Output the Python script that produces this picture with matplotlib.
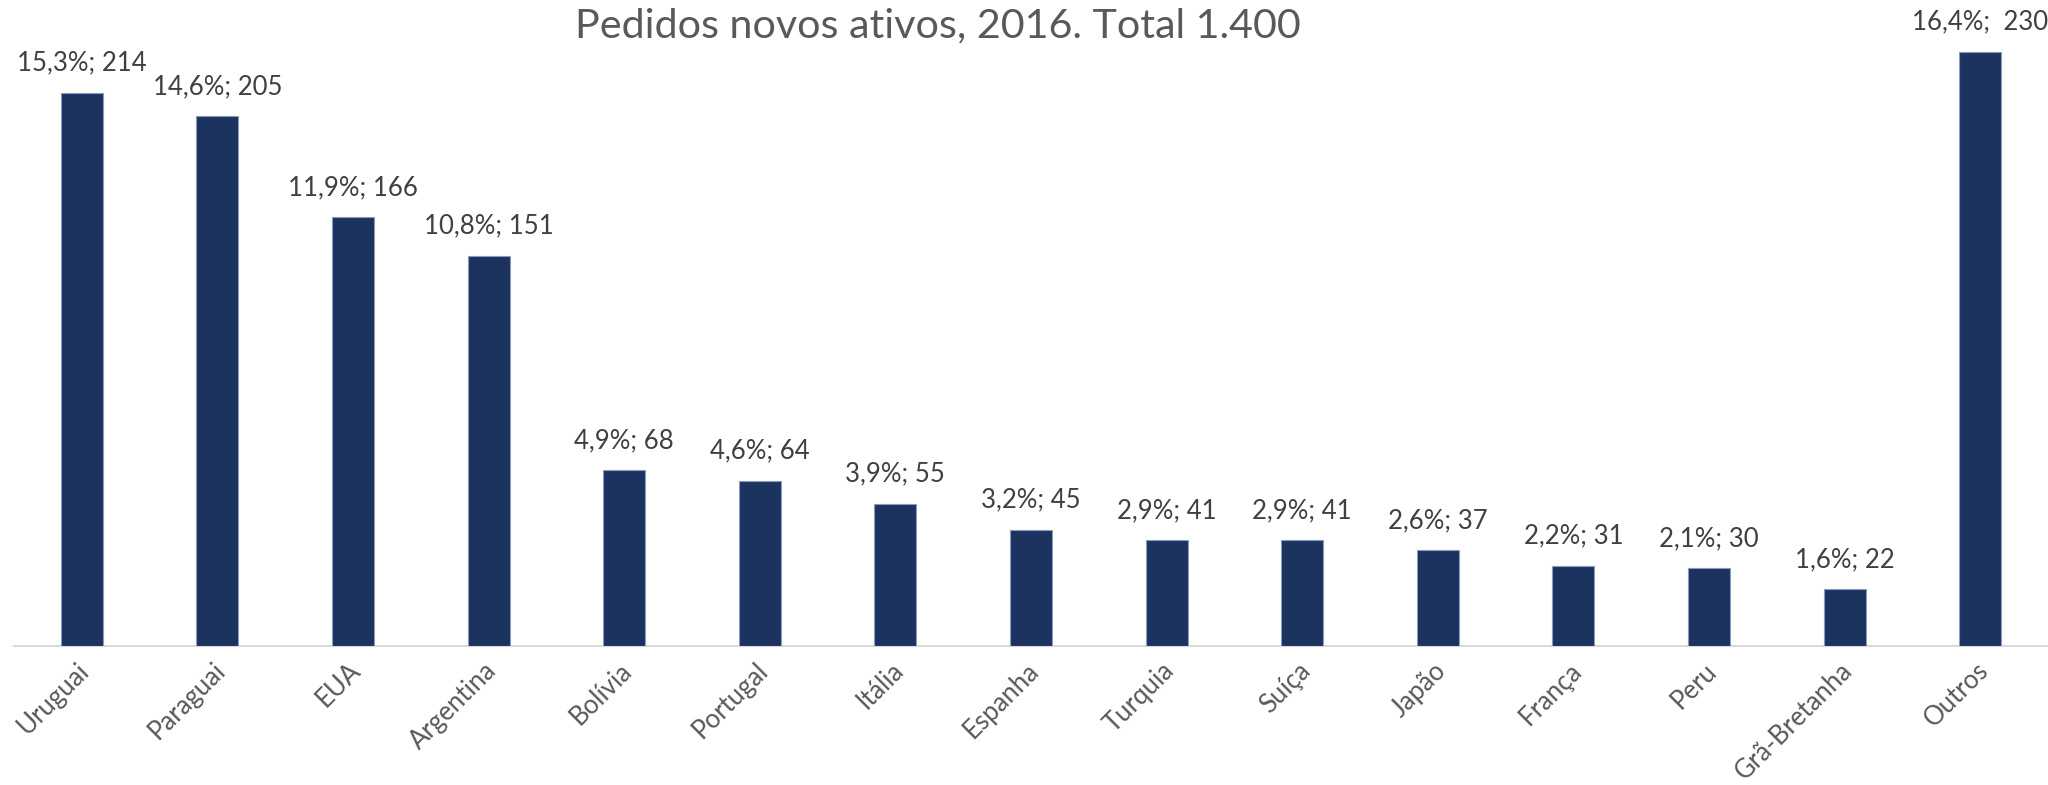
import matplotlib
matplotlib.use("Agg")
import matplotlib.pyplot as plt
import matplotlib.transforms as mtransforms

categories = ["Uruguai", "Paraguai", "EUA", "Argentina", "Bolívia", "Portugal", "Itália",
              "Espanha", "Turquia", "Suíça", "Japão", "França", "Peru", "Grã-Bretanha", "Outros"]
values = [214, 205, 166, 151, 68, 64, 55, 45, 41, 41, 37, 31, 30, 22, 230]
percents = ["15,3%", "14,6%", "11,9%", "10,8%", "4,9%", "4,6%", "3,9%", "3,2%", "2,9%",
            "2,9%", "2,6%", "2,2%", "2,1%", "1,6%", "16,4%"]
separators = ["; "] * 14 + [";  "]
title = "Pedidos novos ativos, 2016. Total 1.400"

plt.rcParams['font.family'] = ['Lato', 'DejaVu Sans']

W, H = 2048, 785
fig = plt.figure(figsize=(W / 100, H / 100), dpi=100)
ax = fig.add_axes([14 / W, (H - 646) / H, 1 - 14 / W, 646 / H])

bar_color = "#1C325F"
x = list(range(len(categories)))
ax.bar(x, values, width=0.31, color=bar_color, edgecolor="#8A9BC0", linewidth=0.8, zorder=3)
ax.set_xlim(-0.5, len(categories) - 0.5)
ax.set_ylim(0, 250)

for xi, v, p, s in zip(x, values, percents, separators):
    ax.annotate(p + s + str(v), (xi, v), xytext=(0, 16), textcoords="offset points",
                ha="center", va="baseline", fontsize=18.5, color="#404040")

for sp in ["top", "right", "left"]:
    ax.spines[sp].set_visible(False)
ax.spines["bottom"].set_color("#D9D9D9")
ax.spines["bottom"].set_linewidth(1.5)
ax.set_yticks([])
ax.set_xticks(x)
ax.set_xticklabels(categories, rotation=45, ha="right", va="center",
                   rotation_mode="anchor", fontsize=18.5, color="#595959")
ax.tick_params(axis="x", length=0, pad=15)
offset = mtransforms.ScaledTranslation(4 / 100, 0, fig.dpi_scale_trans)
for lab in ax.get_xticklabels():
    lab.set_transform(lab.get_transform() + offset)

t = fig.text(938 / W, (H - 37) / H, title, ha="center", va="baseline",
             fontsize=38, color="#595959")
fig.canvas.draw()
w = t.get_window_extent().width
t.set_fontsize(38 * 727 / w)

fig.savefig("out.png", dpi=100)
